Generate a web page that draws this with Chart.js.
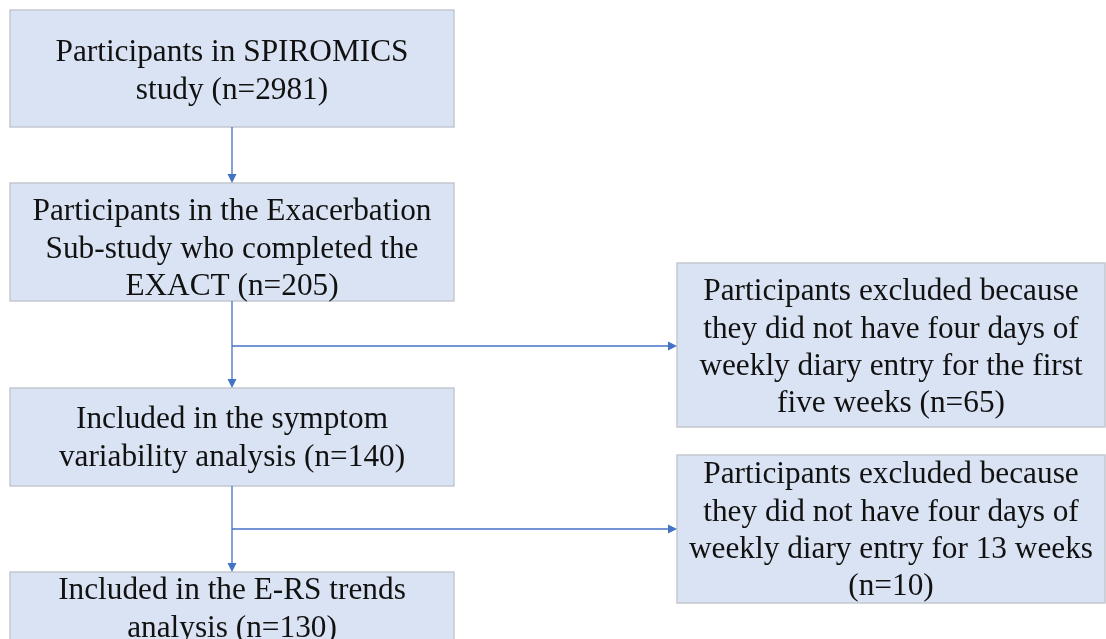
<!DOCTYPE html>
<html>
<head>
<meta charset="utf-8">
<script src="https://cdn.jsdelivr.net/npm/chart.js@4"></script>
<style>
  html, body { margin: 0; padding: 0; background: #fff; }
  #wrap { width: 1106px; height: 639px; }
</style>
</head>
<body>
<div id="wrap"><canvas id="flow"></canvas></div>
<script>
// Flow chart content
const stepNames = ["SPIROMICS", "Exacerbation", "Variability", "ERS", "Excluded1", "Excluded2"];
const stepCounts = [2981, 205, 140, 130, 65, 10];
const stepText = [
  ["Participants in SPIROMICS", "study (n=" + stepCounts[0] + ")"],
  ["Participants in the Exacerbation", "Sub-study who completed the", "EXACT (n=" + stepCounts[1] + ")"],
  ["Included in the symptom", "variability analysis (n=" + stepCounts[2] + ")"],
  ["Included in the E-RS trends", "analysis (n=" + stepCounts[3] + ")"],
  ["Participants excluded because", "they did not have four days of", "weekly diary entry for the first", "five weeks (n=" + stepCounts[4] + ")"],
  ["Participants excluded because", "they did not have four days of", "weekly diary entry for 13 weeks", "(n=" + stepCounts[5] + ")"],
];

// Layout (in axis units, 1 unit = 1 px)
const boxes = [
  { x0: 10, y0: 10, x1: 454, y1: 127, ty: 53 },
  { x0: 10, y0: 183, x1: 454, y1: 301, ty: 212 },
  { x0: 10, y0: 388, x1: 454, y1: 486, ty: 420 },
  { x0: 10, y0: 572, x1: 454, y1: 660, ty: 591 },
  { x0: 677, y0: 263, x1: 1105, y1: 427, ty: 292 },
  { x0: 677, y0: 455, x1: 1105, y1: 603, ty: 475 },
];
const arrows = [
  [232, 127, 232, 183],
  [232, 301, 232, 388],
  [232, 486, 232, 572],
  [232, 346, 677, 346],
  [232, 529, 677, 529],
];

const flowPlugin = {
  id: "flow",
  afterDraw(chart) {
    const ctx = chart.ctx;
    const sx = chart.scales.x, sy = chart.scales.y;
    const px = (v) => sx.getPixelForValue(v);
    const py = (v) => sy.getPixelForValue(v);
    ctx.save();
    boxes.forEach((b, i) => {
      const x0 = px(b.x0), y0 = py(b.y0), x1 = px(b.x1), y1 = py(b.y1);
      ctx.fillStyle = "#dae3f3";
      ctx.fillRect(x0, y0, x1 - x0, y1 - y0);
      ctx.strokeStyle = "#c3c8d0";
      ctx.lineWidth = 1.5;
      ctx.strokeRect(x0, y0, x1 - x0, y1 - y0);
      ctx.fillStyle = "#111";
      ctx.font = "31.3px 'Liberation Serif', 'Times New Roman', serif";
      ctx.textAlign = "center";
      ctx.textBaseline = "middle";
      stepText[i].forEach((line, j) => {
        ctx.fillText(line, (x0 + x1) / 2, py(b.ty + j * 37.3));
      });
    });
    ctx.strokeStyle = "#4472c4";
    ctx.fillStyle = "#4472c4";
    ctx.lineWidth = 1.3;
    arrows.forEach((a) => {
      const x0 = px(a[0]), y0 = py(a[1]), x1 = px(a[2]), y1 = py(a[3]);
      const ang = Math.atan2(y1 - y0, x1 - x0);
      const len = 9, half = 4.5;
      ctx.beginPath();
      ctx.moveTo(x0, y0);
      ctx.lineTo(x1 - len * Math.cos(ang), y1 - len * Math.sin(ang));
      ctx.stroke();
      ctx.beginPath();
      ctx.moveTo(x1, y1);
      ctx.lineTo(x1 - len * Math.cos(ang) - half * Math.sin(ang), y1 - len * Math.sin(ang) + half * Math.cos(ang));
      ctx.lineTo(x1 - len * Math.cos(ang) + half * Math.sin(ang), y1 - len * Math.sin(ang) - half * Math.cos(ang));
      ctx.closePath();
      ctx.fill();
    });
    ctx.restore();
  },
};

new Chart("flow", {
  type: "scatter",
  data: {
    labels: stepNames,
    datasets: [
      {
        data: boxes.map((b) => ({ x: (b.x0 + b.x1) / 2, y: (b.y0 + b.y1) / 2 })),
        pointRadius: 0,
        pointHoverRadius: 0,
      },
    ],
  },
  options: {
    responsive: true,
    maintainAspectRatio: false,
    animation: false,
    layout: { padding: 0 },
    scales: {
      x: { type: "linear", min: 0, max: 1106, display: false },
      y: { type: "linear", min: 0, max: 639, reverse: true, display: false },
    },
    plugins: {
      legend: { display: false },
      tooltip: { enabled: false },
    },
  },
  plugins: [flowPlugin],
});
</script>
</body>
</html>
